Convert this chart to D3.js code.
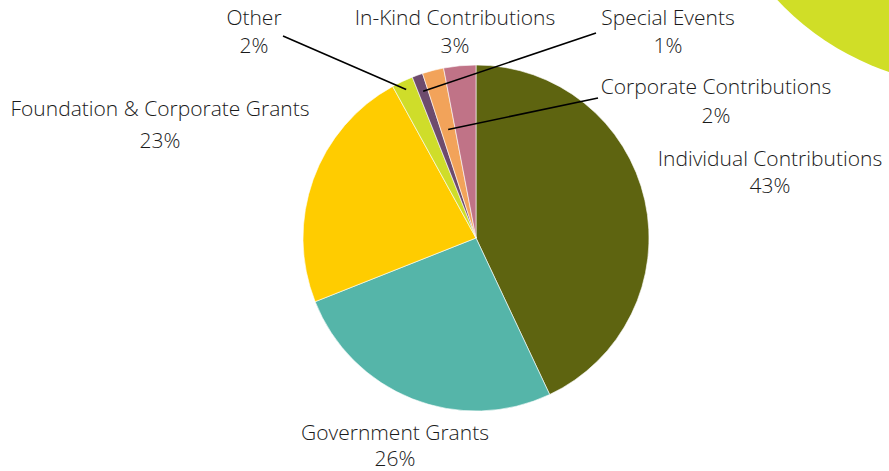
<!DOCTYPE html>
<html>
<head>
<meta charset="utf-8">
<script src="https://cdn.jsdelivr.net/npm/d3@7"></script>
<style>
  html, body { margin: 0; padding: 0; background: #fff; }
  svg text { font-family: "Open Sans", sans-serif; font-weight: 300; fill: #1a1a1a; }
</style>
</head>
<body>
<div id="chart"></div>
<script>
// revenue sources, clockwise from 12 o'clock
const categories = ['Individual Contributions', 'Government Grants', 'Foundation & Corporate Grants',
  'Other', 'Special Events', 'Corporate Contributions', 'In-Kind Contributions'];
const values = [43, 26, 23, 2, 1, 2, 3];
const colors = ['#5e6410', '#55b5a9', '#ffcc00', '#cfdd2a', '#6d4b6d', '#f2a35a', '#c07387'];

// label anchor (text centre, first baseline), line gap, optional leader line
const labelLayout = [
  { x: 770, y: 166, gap: 27 },
  { x: 395, y: 440, gap: 26 },
  { x: 160, y: 116, gap: 32 },
  { x: 254, y: 25, gap: 28, lx: 283, ly: 36, r: 164 },
  { x: 668, y: 25, gap: 28, lx: 596, ly: 33, r: 156 },
  { x: 716, y: 94, gap: 29, lx: 598, ly: 98, r: 112 },
  { x: 455, y: 25, gap: 28 }
];

const W = 889, H = 471;
const cx = 476, cy = 238, R = 173;

const svg = d3.select('#chart').append('svg')
  .attr('width', W).attr('height', H);

// decorative circle in the corner
svg.append('circle')
  .attr('cx', 975).attr('cy', -184).attr('r', 270)
  .attr('fill', '#d0de27');

const pie = d3.pie().sort(null).value(d => d)(values);
const arc = d3.arc().innerRadius(0).outerRadius(R);

const g = svg.append('g').attr('transform', `translate(${cx},${cy})`);

g.selectAll('path').data(pie).join('path')
  .attr('d', arc)
  .attr('fill', (d, i) => colors[i])
  .attr('stroke', '#fff').attr('stroke-width', 0.6);

// leader lines
pie.forEach((d, i) => {
  const L = labelLayout[i];
  if (L.lx == null) return;
  const p = d3.arc().innerRadius(L.r).outerRadius(L.r).centroid(d);
  svg.append('line')
    .attr('x1', L.lx).attr('y1', L.ly)
    .attr('x2', cx + p[0]).attr('y2', cy + p[1])
    .attr('stroke', '#000').attr('stroke-width', 1.6);
});

// labels
const lab = svg.append('g').selectAll('text').data(pie).join('text')
  .attr('text-anchor', 'middle')
  .attr('font-size', '21px');
lab.append('tspan')
  .attr('x', (d, i) => labelLayout[i].x)
  .attr('y', (d, i) => labelLayout[i].y)
  .text((d, i) => categories[i]);
lab.append('tspan')
  .attr('x', (d, i) => labelLayout[i].x)
  .attr('y', (d, i) => labelLayout[i].y + labelLayout[i].gap)
  .text(d => d.data + '%');
</script>
</body>
</html>
